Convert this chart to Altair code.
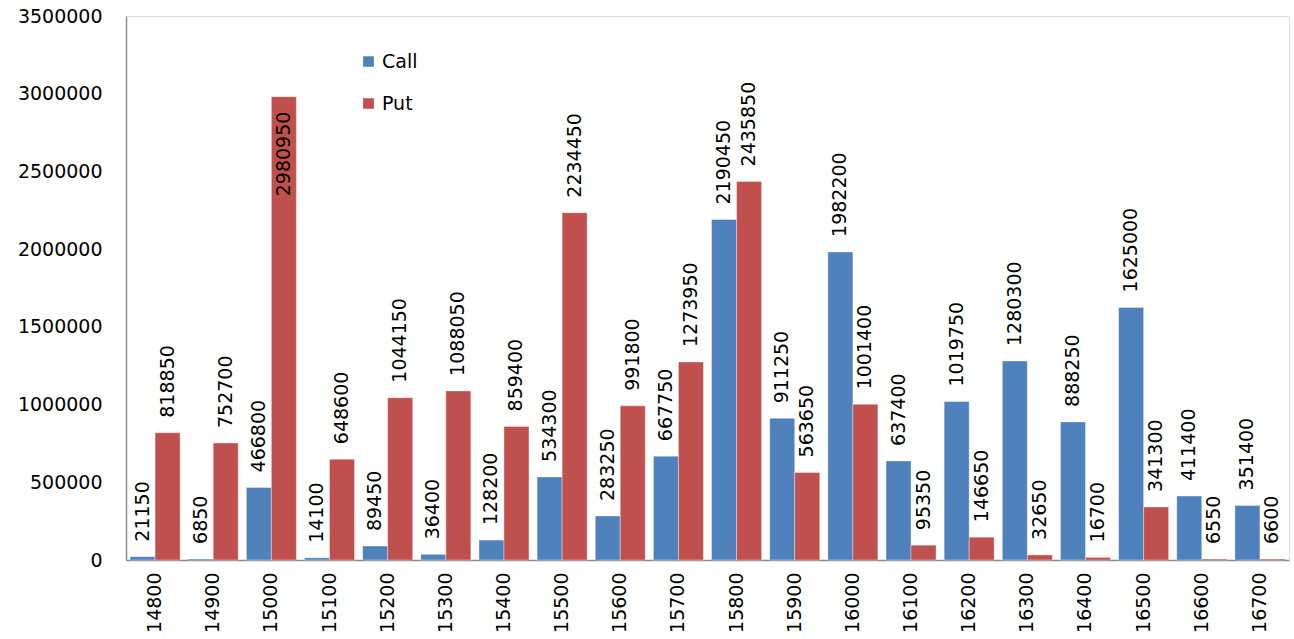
import altair as alt
import pandas as pd

strikes = ["14800", "14900", "15000", "15100", "15200", "15300", "15400", "15500", "15600", "15700",
           "15800", "15900", "16000", "16100", "16200", "16300", "16400", "16500", "16600", "16700"]
call_oi = [21150, 6850, 466800, 14100, 89450, 36400, 128200, 534300, 283250, 667750,
           2190450, 911250, 1982200, 637400, 1019750, 1280300, 888250, 1625000, 411400, 351400]
put_oi = [818850, 752700, 2980950, 648600, 1044150, 1088050, 859400, 2234450, 991800, 1273950,
          2435850, 563650, 1001400, 95350, 146650, 32650, 16700, 341300, 6550, 6600]
series = ["Call", "Put"]
colors = ["#4F81BD", "#C0504D"]
y_ticks = [0, 500000, 1000000, 1500000, 2000000, 2500000, 3000000, 3500000]
title_text = "Call- Put Options Open Interests Distributions for Aug 21 Contract"

rows = []
for s, c, p in zip(strikes, call_oi, put_oi):
    rows.append({"strike": s, "type": "Call", "oi": c})
    rows.append({"strike": s, "type": "Put", "oi": p})
df = pd.DataFrame(rows)

FONT = "DejaVu Sans"

x_enc = alt.X("strike:N", sort=strikes,
              scale=alt.Scale(paddingInner=0.14, paddingOuter=0.07),
              axis=alt.Axis(title=None, labelAngle=270, labelFontSize=19, labelFont=FONT,
                            labelColor="#000000", labelPadding=12, ticks=False,
                            domainColor="#8c8c8c", domainWidth=1.5))
xo_enc = alt.XOffset("type:N", sort=series)
y_enc = alt.Y("oi:Q", scale=alt.Scale(domain=[0, 3500000], nice=False),
              axis=alt.Axis(title=None, values=y_ticks, format="d", labelFontSize=19,
                            labelFont=FONT, labelColor="#000000", labelPadding=24,
                            ticks=False, grid=False, domainColor="#8c8c8c", domainWidth=1.5))

base = alt.Chart(df).encode(x=x_enc, xOffset=xo_enc, y=y_enc)

bars = base.mark_bar(stroke="#ffffff", strokeWidth=0.6, strokeOpacity=0.6).encode(
    color=alt.Color("type:N", sort=series,
                    scale=alt.Scale(domain=series, range=colors),
                    legend=alt.Legend(title=None, orient="none", legendX=233, legendY=36,
                                      symbolType="square", symbolSize=150,
                                      labelFontSize=19, labelFont=FONT, labelColor="#000000",
                                      rowPadding=22, labelOffset=4))
)

outside = base.transform_filter("datum.oi <= 2700000").mark_text(
    angle=270, align="left", baseline="middle", dx=15, fontSize=19, font=FONT, color="#000000"
).encode(text=alt.Text("oi:Q", format="d"))

inside = base.transform_filter("datum.oi > 2700000").mark_text(
    angle=270, align="right", baseline="middle", dx=-15, fontSize=19, font=FONT, color="#000000"
).encode(text=alt.Text("oi:Q", format="d"))

chart = alt.layer(bars, outside, inside).properties(
    width=1163, height=544,
    title=alt.TitleParams(title_text, fontSize=22, fontWeight="bold", font=FONT,
                          anchor="middle", baseline="alphabetic", offset=15, color="#000000"),
    autosize=alt.AutoSizeParams(type="none"),
    padding={"left": 126, "top": 16, "right": 5, "bottom": 80},
).configure_view(stroke=None).configure(background="#ffffff")

chart.save("out.html", embed_options={"renderer": "svg", "actions": False})
